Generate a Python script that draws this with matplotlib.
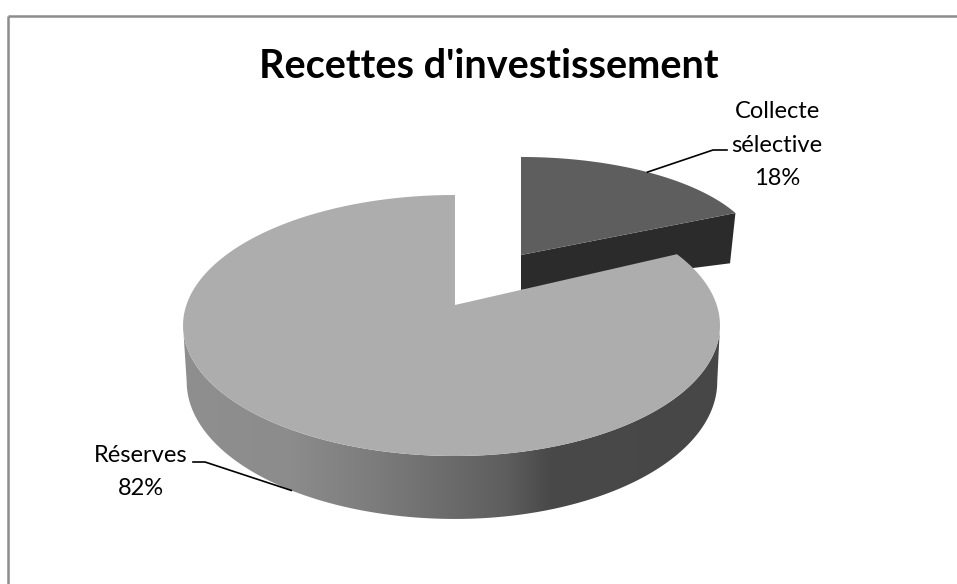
import numpy as np
from matplotlib import pyplot as plt
from matplotlib.colors import LinearSegmentedColormap
from matplotlib.patches import Polygon

plt.rcParams['font.family'] = ['Lato', 'DejaVu Sans']

title = "Recettes d'investissement"
categories = ['Collecte\nsélective', 'Réserves']
shares = [18, 82]

W, H = 957, 584
fig = plt.figure(figsize=(W / 100, H / 100), dpi=100)
ax = fig.add_axes([0, 0, 1, 1])
ax.set_xlim(0, W)
ax.set_ylim(H, 0)
ax.axis('off')


def project(theta, x0, y0, a_left, a_right, b, k, r=1.0):
    # theta in degrees, clockwise from 12 o'clock; k is the perspective
    t = np.radians(theta)
    X = r * np.sin(t)
    Y = r * np.cos(t)
    a = np.where(X < 0, a_left, a_right)
    w = 1 + k * Y
    return x0 + a * X / w, y0 - b * Y / w


main_top = dict(x0=455, y0=305, a_left=268.6, a_right=261.7, b=127.3, k=0.157)
main_bot = dict(x0=455, y0=360, a_left=265, a_right=259, b=134, k=0.157)
slice_top = dict(x0=521, y0=255, a_left=238, a_right=238, b=99, k=0.01)
slice_bot = dict(x0=521, y0=290, a_left=232, a_right=232, b=63, k=0.01)

sweep = [360 * s / sum(shares) for s in shares]
slice_end = sweep[0]
main_mid = slice_end + sweep[1] / 2
slice_mid = slice_end / 2

# exploded slice, drawn first because the big one hides a part of it
edge = np.linspace(0, slice_end, 60)
x, y = project(edge, **slice_top)
xb1, yb1 = project(slice_end, **slice_bot)
ax.add_patch(Polygon([(slice_top['x0'], slice_top['y0']), (x[-1], y[-1]), (xb1, yb1),
                      (slice_bot['x0'], slice_bot['y0'])],
                     fc='#2b2b2b', ec='none', zorder=1))
ax.add_patch(Polygon(np.r_[[(slice_top['x0'], slice_top['y0'])], np.c_[x, y]],
                     fc='#5e5e5e', ec='none', zorder=2))

# side of the big slice, with the shading from left to right
front = np.linspace(99, 261, 200)
xt, yt = project(front, **main_top)
xb, yb = project(front, **main_bot)
wall = Polygon(np.r_[np.c_[xt, yt], np.c_[xb, yb][::-1]], fc='none', ec='none', zorder=3)
ax.add_patch(wall)
stops = [(0.0, '#8f8f8f'), (0.2, '#8c8c8c'), (0.36, '#7c7c7c'), (0.6, '#5e5e5e'),
         (0.68, '#494949'), (1.0, '#474747')]
shade = LinearSegmentedColormap.from_list('shade', stops)
img = ax.imshow(np.linspace(0, 1, 256)[None, :], cmap=shade, aspect='auto',
                extent=(180, 724, 530, 320), zorder=3)
img.set_clip_path(wall)
ax.set_xlim(0, W)
ax.set_ylim(H, 0)

# top of the big slice
edge = np.linspace(slice_end, 360, 300)
x, y = project(edge, **main_top)
ax.add_patch(Polygon(np.r_[[(main_top['x0'], main_top['y0'])], np.c_[x, y]],
                     fc='#adadad', ec='none', zorder=4))

# frame, only left and top
ax.plot([8, 8], [H, 16], color='#8c8c8c', lw=1.8, zorder=0, solid_capstyle='butt')
ax.plot([8, W], [16, 16], color='#8c8c8c', lw=1.8, zorder=0, solid_capstyle='butt')

# labels with their leaders
lx, ly = project(slice_mid, **slice_top)
ax.plot([lx, 713, 727], [ly, 150, 150], color='black', lw=1.2, zorder=5)
lx, ly = project(main_mid, **main_bot)
ax.plot([193, 205, lx], [462, 462, ly], color='black', lw=1.2, zorder=5)

ax.text(777, 145, f'{categories[0]}\n{shares[0]}%', ha='center', va='center',
        fontsize=17, linespacing=1.72, color='black')
ax.text(141, 472, f'{categories[1]}\n{shares[1]}%', ha='center', va='center',
        fontsize=17, linespacing=1.72, color='black')
ax.text(489, 66, title, ha='center', va='center', fontsize=28.5, fontweight='bold', color='black')

fig.savefig('out.png', dpi=100)
